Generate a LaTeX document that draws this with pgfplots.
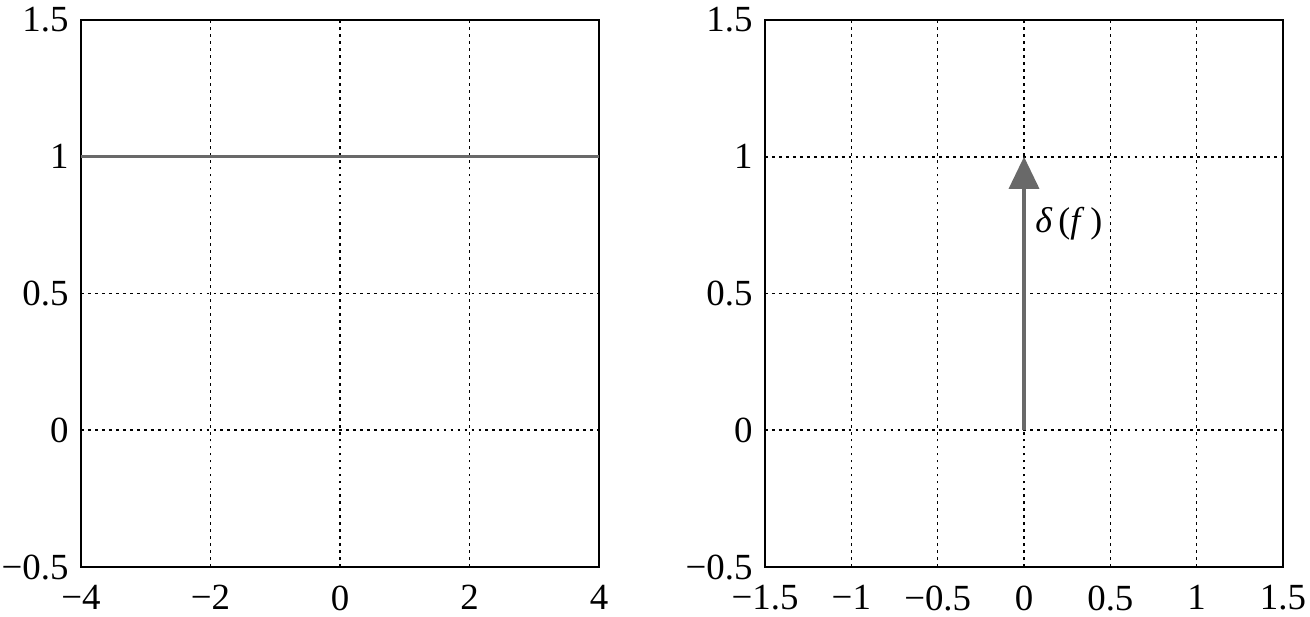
\documentclass[border=0pt]{standalone}
\usepackage{fontspec}
\setmainfont{Liberation Serif}
\usepackage{pgfplots}
\usetikzlibrary{arrows.meta}
\pgfplotsset{compat=1.18}
\begin{document}
\begin{tikzpicture}[x=1bp,y=1bp]
\definecolor{lg}{RGB}{105,105,105}
\path[use as bounding box] (0,0) rectangle (1310,-617);
\pgfplotsset{
  every axis/.append style={
    scale only axis, width=518bp, height=547bp,
    anchor=north west,
    axis line style={black, line width=1.6pt},
    major tick length=0pt,
    grid=major,
    major grid style={black, line width=1.6pt, dash pattern=on 2.8pt off 4.2pt},
    ymin=-0.5, ymax=1.5,
    ytick={-0.5,0,0.5,1,1.5},
    yticklabels={−0.5,0,0.5,1,1.5},
    tick label style={font=\fontsize{37}{40}\selectfont},
    yticklabel style={xshift=-9bp},
    xticklabel style={yshift=-15bp},
    clip=false,
  }
}
\begin{axis}[at={(81bp,-20bp)},
  xmin=-4, xmax=4,
  xtick={-4,-2,0,2,4},
  xticklabels={−4,−2,0,2,4}]
\addplot[lg, line width=3.2pt] coordinates {(-4,1) (4,1)};
\end{axis}
\begin{axis}[at={(765bp,-20bp)},
  xmin=-1.5, xmax=1.5,
  xtick={-1.5,-1,-0.5,0,0.5,1,1.5},
  xticklabels={−1.5,−1,−0.5,0,0.5,1,1.5}]
\addplot[lg, line width=3.2pt, -{Triangle[width=30bp,length=32bp]}] coordinates {(0,0) (0,1)};
\node[anchor=west, inner sep=0pt, font=\fontsize{36}{40}\selectfont] at (axis cs:0.064,0.755) {\textit{δ}\,(\textit{f}\,)};
\end{axis}
\end{tikzpicture}
\end{document}
